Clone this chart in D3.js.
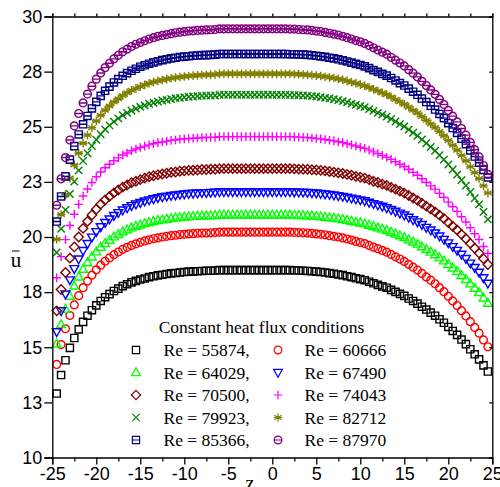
<!DOCTYPE html>
<html lang="en">
<head>
<meta charset="UTF-8">
<script src="https://d3js.org/d3.v7.min.js"></script>
<style>
  body { margin: 0; background: #fff; }
  svg { display: block; }
  .axis text { font-family: Arial, "Liberation Sans", sans-serif; font-size: 18px; fill: #000; }
  .axis path, .axis line { stroke: #000; stroke-width: 1.3; }
  .serif { font-family: "Times New Roman", "Liberation Serif", serif; fill: #000; }
</style>
</head>
<body>
<svg id="chart" width="500" height="487"></svg>
<script>
// z positions shared by all series
const zValues = [-24.5,-24,-23.5,-23,-22.5,-22,-21.5,-21,-20.5,-20,-19.5,-19,-18.5,-18,-17.5,-17,-16.5,-16,-15.5,-15,-14.5,-14,-13.5,-13,-12.5,-12,-11.5,-11,-10.5,-10,-9.5,-9,-8.5,-8,-7.5,-7,-6.5,-6,-5.5,-5,-4.5,-4,-3.5,-3,-2.5,-2,-1.5,-1,-0.5,0,0.5,1,1.5,2,2.5,3,3.5,4,4.5,5,5.5,6,6.5,7,7.5,8,8.5,9,9.5,10,10.5,11,11.5,12,12.5,13,13.5,14,14.5,15,15.5,16,16.5,17,17.5,18,18.5,19,19.5,20,20.5,21,21.5,22,22.5,23,23.5,24,24.5];

// mean velocity for each Reynolds number
const re55874 = [12.9,13.74,14.41,14.97,15.42,15.81,16.15,16.43,16.68,16.9,17.1,17.27,17.41,17.55,17.66,17.77,17.86,17.94,18.01,18.07,18.12,18.18,18.22,18.26,18.29,18.32,18.35,18.37,18.39,18.41,18.43,18.44,18.45,18.46,18.47,18.47,18.48,
  18.5,18.5,18.5,18.5,18.5,18.5,18.5,18.5,18.5,18.5,18.5,18.5,18.5,
  18.5,18.5,18.5,18.5,18.49,18.48,18.47,18.46,18.45,18.43,18.41,18.39,18.36,18.33,18.3,18.27,18.22,18.18,18.13,18.09,18.04,17.97,17.9,17.83,17.76,17.7,17.6,17.51,17.42,17.33,17.21,17.1,16.98,16.84,16.71,16.57,16.43,16.27,16.11,15.92,15.74,15.56,15.35,15.14,14.91,14.68,14.45,14.18,13.9];
const re60666 = [14.22,15.12,15.84,16.44,16.92,17.34,17.7,18.0,18.27,18.51,18.72,18.9,19.05,19.2,19.32,19.44,19.53,19.62,19.69,19.76,19.82,19.87,19.92,19.96,20.0,20.03,20.06,20.08,20.11,20.12,20.14,20.15,20.17,20.18,20.18,20.19,20.2,
  20.22,20.22,20.22,20.22,20.22,20.22,20.22,20.22,20.22,20.22,20.22,20.22,20.22,
  20.22,20.22,20.22,20.22,20.21,20.2,20.19,20.18,20.16,20.14,20.12,20.1,20.06,20.03,20.0,19.96,19.91,19.86,19.8,19.75,19.7,19.62,19.54,19.47,19.39,19.31,19.21,19.1,19.0,18.89,18.76,18.63,18.5,18.35,18.19,18.04,17.88,17.7,17.52,17.31,17.1,16.89,16.66,16.42,16.16,15.9,15.64,15.33,15.02];
const re64029 = [15.15,16.03,16.73,17.31,17.78,18.19,18.54,18.84,19.1,19.33,19.54,19.71,19.86,20.01,20.12,20.24,20.33,20.42,20.49,20.55,20.61,20.66,20.71,20.75,20.78,20.81,20.84,20.87,20.89,20.91,20.92,20.94,20.95,20.96,20.97,20.97,20.98,
  21,21,21,21,21,21,21,21,21,21,21,21,21,
  21.0,21.0,21.0,21.0,20.99,20.98,20.98,20.97,20.96,20.94,20.92,20.9,20.88,20.86,20.83,20.8,20.76,20.72,20.68,20.64,20.6,20.54,20.48,20.42,20.36,20.3,20.22,20.14,20.06,19.98,19.88,19.78,19.68,19.56,19.44,19.32,19.2,19.06,18.92,18.76,18.6,18.44,18.26,18.08,17.88,17.68,17.48,17.24,17.0];
const re67490 = [15.7,16.65,17.41,18.05,18.56,19.0,19.38,19.7,19.99,20.24,20.46,20.65,20.81,20.97,21.1,21.22,21.32,21.42,21.49,21.56,21.63,21.68,21.73,21.78,21.82,21.85,21.88,21.9,21.93,21.95,21.97,21.98,21.99,22.01,22.01,22.02,22.03,
  22.05,22.05,22.05,22.05,22.05,22.05,22.05,22.05,22.05,22.05,22.05,22.05,22.05,
  22.05,22.05,22.05,22.05,22.04,22.03,22.03,22.02,22.0,21.99,21.97,21.95,21.93,21.9,21.87,21.84,21.8,21.76,21.72,21.68,21.64,21.57,21.51,21.45,21.39,21.32,21.24,21.16,21.08,20.99,20.89,20.78,20.68,20.56,20.43,20.31,20.18,20.04,19.89,19.73,19.56,19.39,19.21,19.02,18.81,18.61,18.4,18.15,17.9];
const re70500 = [16.65,17.62,18.39,19.04,19.55,20.0,20.39,20.71,21.0,21.26,21.49,21.68,21.84,22.0,22.13,22.26,22.36,22.46,22.53,22.6,22.67,22.73,22.78,22.82,22.86,22.89,22.93,22.95,22.98,23.0,23.02,23.03,23.04,23.06,23.06,23.07,23.07,
  23.1,23.1,23.1,23.1,23.1,23.1,23.1,23.1,23.1,23.1,23.1,23.1,23.1,
  23.1,23.1,23.1,23.1,23.09,23.08,23.07,23.07,23.05,23.04,23.02,23.0,22.97,22.94,22.91,22.88,22.84,22.8,22.75,22.71,22.67,22.6,22.53,22.47,22.4,22.34,22.25,22.17,22.08,21.99,21.88,21.77,21.66,21.53,21.4,21.27,21.14,20.99,20.84,20.66,20.49,20.32,20.12,19.92,19.71,19.49,19.27,19.01,18.75];
const re74043 = [18.15,19.11,19.88,20.52,21.03,21.48,21.86,22.18,22.47,22.73,22.95,23.14,23.3,23.46,23.59,23.72,23.81,23.91,23.99,24.06,24.12,24.18,24.23,24.28,24.31,24.35,24.38,24.4,24.43,24.45,24.47,24.48,24.49,24.51,24.51,24.52,24.52,
  24.55,24.55,24.55,24.55,24.55,24.55,24.55,24.55,24.55,24.55,24.55,24.55,24.55,
  24.55,24.55,24.55,24.55,24.54,24.53,24.52,24.51,24.49,24.47,24.45,24.42,24.39,24.36,24.32,24.28,24.23,24.18,24.13,24.07,24.02,23.94,23.86,23.78,23.7,23.62,23.52,23.41,23.3,23.2,23.07,22.93,22.8,22.64,22.48,22.32,22.17,21.98,21.79,21.58,21.37,21.16,20.92,20.68,20.42,20.15,19.89,19.57,19.25];
const re79923 = [19.3,20.37,21.23,21.95,22.52,23.02,23.45,23.8,24.13,24.41,24.66,24.88,25.06,25.23,25.38,25.52,25.63,25.74,25.82,25.9,25.97,26.04,26.09,26.14,26.19,26.22,26.26,26.29,26.31,26.34,26.36,26.37,26.39,26.4,26.41,26.41,26.42,
  26.45,26.45,26.45,26.45,26.45,26.45,26.45,26.45,26.45,26.45,26.45,26.45,26.45,
  26.45,26.45,26.45,26.44,26.44,26.43,26.42,26.41,26.39,26.37,26.34,26.31,26.28,26.25,26.21,26.16,26.11,26.05,26.0,25.94,25.89,25.8,25.72,25.63,25.55,25.46,25.35,25.24,25.12,25.01,24.87,24.73,24.59,24.42,24.25,24.08,23.91,23.71,23.51,23.29,23.06,22.83,22.58,22.33,22.04,21.76,21.48,21.14,20.8];
const re82712 = [19.9,21.02,21.92,22.67,23.27,23.8,24.25,24.62,24.96,25.26,25.52,25.75,25.94,26.12,26.27,26.42,26.54,26.65,26.74,26.82,26.9,26.97,27.03,27.08,27.12,27.16,27.2,27.23,27.26,27.28,27.3,27.32,27.33,27.35,27.36,27.36,27.37,
  27.4,27.4,27.4,27.4,27.4,27.4,27.4,27.4,27.4,27.4,27.4,27.4,27.4,
  27.4,27.4,27.4,27.4,27.39,27.38,27.37,27.36,27.34,27.32,27.3,27.27,27.24,27.21,27.17,27.13,27.08,27.02,26.97,26.91,26.86,26.78,26.7,26.62,26.54,26.46,26.35,26.24,26.13,26.02,25.89,25.75,25.62,25.46,25.29,25.13,24.97,24.78,24.59,24.38,24.16,23.94,23.7,23.46,23.19,22.92,22.65,22.32,22.0];
const re85366 = [20.7,21.84,22.75,23.51,24.12,24.65,25.11,25.49,25.83,26.13,26.4,26.63,26.82,27.01,27.16,27.31,27.43,27.54,27.63,27.72,27.79,27.86,27.92,27.97,28.02,28.06,28.1,28.13,28.16,28.18,28.2,28.22,28.23,28.25,28.25,28.26,28.27,
  28.3,28.3,28.3,28.3,28.3,28.3,28.3,28.3,28.3,28.3,28.3,28.3,28.3,
  28.3,28.3,28.3,28.29,28.29,28.28,28.27,28.26,28.24,28.22,28.19,28.17,28.13,28.1,28.06,28.01,27.96,27.91,27.85,27.8,27.74,27.66,27.57,27.49,27.4,27.32,27.21,27.1,26.98,26.87,26.73,26.59,26.45,26.28,26.12,25.95,25.78,25.58,25.39,25.16,24.94,24.72,24.46,24.21,23.93,23.65,23.37,23.04,22.7];
const re87970 = [21.44,22.64,23.6,24.4,25.04,25.6,26.08,26.48,26.84,27.16,27.44,27.68,27.88,28.08,28.24,28.4,28.52,28.64,28.74,28.82,28.9,28.98,29.04,29.1,29.14,29.18,29.22,29.26,29.29,29.31,29.34,29.35,29.37,29.38,29.39,29.4,29.41,
  29.44,29.44,29.44,29.44,29.44,29.44,29.44,29.44,29.44,29.44,29.44,29.44,29.44,
  29.44,29.44,29.44,29.43,29.43,29.41,29.4,29.39,29.37,29.34,29.32,29.28,29.24,29.2,29.16,29.1,29.04,28.98,28.91,28.85,28.78,28.68,28.58,28.48,28.38,28.29,28.15,28.02,27.89,27.76,27.59,27.43,27.26,27.06,26.87,26.67,26.47,26.24,26.01,25.74,25.48,25.22,24.92,24.62,24.29,23.96,23.63,23.24,22.84];

const seriesLabels = ["Re = 55874,", "Re = 60666", "Re = 64029,", "Re = 67490", "Re = 70500,",
                      "Re = 74043", "Re = 79923,", "Re = 82712", "Re = 85366,", "Re = 87970"];
const legendTitle = "Constant heat flux conditions";

const xTicks = [-25, -20, -15, -10, -5, 0, 5, 10, 15, 20, 25];
const xMinorTicks = [-22.5, -17.5, -12.5, -7.5, -2.5, 2.5, 7.5, 12.5, 17.5, 22.5];
const yTicks = [10, 12.5, 15, 17.5, 20, 22.5, 25, 27.5, 30];
const yTickLabels = ["10", "13", "15", "18", "20", "23", "25", "28", "30"];

// styles
const seriesColors = ["#000000", "#ff0000", "#00ff00", "#0000ff", "#800000",
                      "#ff00ff", "#008000", "#808000", "#000080", "#800080"];
const seriesSymbols = ["square", "circle", "triUp", "triDown", "diamond",
                       "plus", "times", "star", "squareBar", "circleBar"];

const allSeries = [re55874, re60666, re64029, re67490, re70500,
                   re74043, re79923, re82712, re85366, re87970];

const svg = d3.select("#chart");
const x = d3.scaleLinear().domain([-25, 25]).range([52.3, 492.3]);
const y = d3.scaleLinear().domain([10, 30]).range([457.5, 16.5]);

function symbolPath(type) {
  const a = 3.6, r = 3.9;
  const circle = `M${r},0A${r},${r} 0 1,1 ${-r},0A${r},${r} 0 1,1 ${r},0Z`;
  switch (type) {
    case "square": return `M${-a},${-a}H${a}V${a}H${-a}Z`;
    case "squareBar": return `M${-a},${-a}H${a}V${a}H${-a}Z M${-a},0H${a}`;
    case "circle": return circle;
    case "circleBar": return circle + ` M${-r},0H${r}`;
    case "triUp": return "M0,-4.7L4.4,3.1L-4.4,3.1Z";
    case "triDown": return "M0,4.7L4.4,-3.1L-4.4,-3.1Z";
    case "diamond": return "M0,-4.7L4.7,0L0,4.7L-4.7,0Z";
    case "plus": return "M-4.3,0H4.3M0,-4.3V4.3";
    case "times": return "M-3.7,-3.7L3.7,3.7M-3.7,3.7L3.7,-3.7";
    case "star": return "M0,-4.3V4.3M-3.7,-2.15L3.7,2.15M-3.7,2.15L3.7,-2.15M-4.3,0H4.3";
  }
}

// data markers
allSeries.forEach((vals, i) => {
  svg.append("g")
    .selectAll("path")
    .data(vals)
    .enter()
    .append("path")
    .attr("transform", (d, k) => `translate(${x(zValues[k])},${y(d)})`)
    .attr("d", symbolPath(seriesSymbols[i]))
    .attr("fill", "none")
    .attr("stroke", seriesColors[i])
    .attr("stroke-width", 1.4);
});

// axes
svg.append("g").attr("class", "axis")
  .attr("transform", `translate(0,${y(10)})`)
  .call(d3.axisBottom(x).tickValues(xTicks).tickSize(7).tickPadding(3).tickFormat(d => String(d)));
svg.append("g").attr("class", "axis")
  .attr("transform", `translate(0,${y(10)})`)
  .call(d3.axisBottom(x).tickValues(xMinorTicks).tickSize(4).tickFormat(""))
  .select(".domain").remove();
svg.append("g").attr("class", "axis")
  .attr("transform", `translate(0,${y(30)})`)
  .call(d3.axisTop(x).tickValues(xTicks.concat(xMinorTicks)).tickSize(3).tickFormat(""));

svg.append("g").attr("class", "axis")
  .attr("transform", `translate(${x(-25)},0)`)
  .call(d3.axisLeft(y).tickValues(yTicks).tickSize(8).tickPadding(2)
    .tickFormat((d, i) => yTickLabels[i]));
svg.append("g").attr("class", "axis")
  .attr("transform", `translate(${x(25)},0)`)
  .call(d3.axisLeft(y).tickValues(yTicks).tickSize(3).tickFormat(""));

// axis titles
svg.append("text").attr("class", "serif")
  .attr("x", 16).attr("y", 267)
  .attr("text-anchor", "middle")
  .style("font-size", "21px")
  .text("u");
svg.append("line")
  .attr("x1", 12).attr("x2", 19.5)
  .attr("y1", 251).attr("y2", 251)
  .attr("stroke", "#000").attr("stroke-width", 1);
svg.append("text").attr("class", "serif")
  .attr("x", 250).attr("y", 490)
  .attr("text-anchor", "middle")
  .style("font-size", "20px")
  .text("z");

// legend
const legend = svg.append("g").attr("class", "legend");
legend.append("text").attr("class", "serif")
  .attr("x", 261.5).attr("y", 333)
  .attr("text-anchor", "middle")
  .style("font-size", "17.5px")
  .text(legendTitle);

seriesLabels.forEach((label, i) => {
  const col = i % 2, row = Math.floor(i / 2);
  const sx = col === 0 ? 136 : 278;
  const tx = col === 0 ? 163.5 : 304.5;
  const cy = 350 + row * 22.5;
  legend.append("path")
    .attr("transform", `translate(${sx},${cy})`)
    .attr("d", symbolPath(seriesSymbols[i]))
    .attr("fill", "none")
    .attr("stroke", seriesColors[i])
    .attr("stroke-width", 1.2);
  legend.append("text").attr("class", "serif")
    .attr("x", tx).attr("y", cy + 6)
    .style("font-size", "17.5px")
    .text(label);
});
</script>
</body>
</html>
